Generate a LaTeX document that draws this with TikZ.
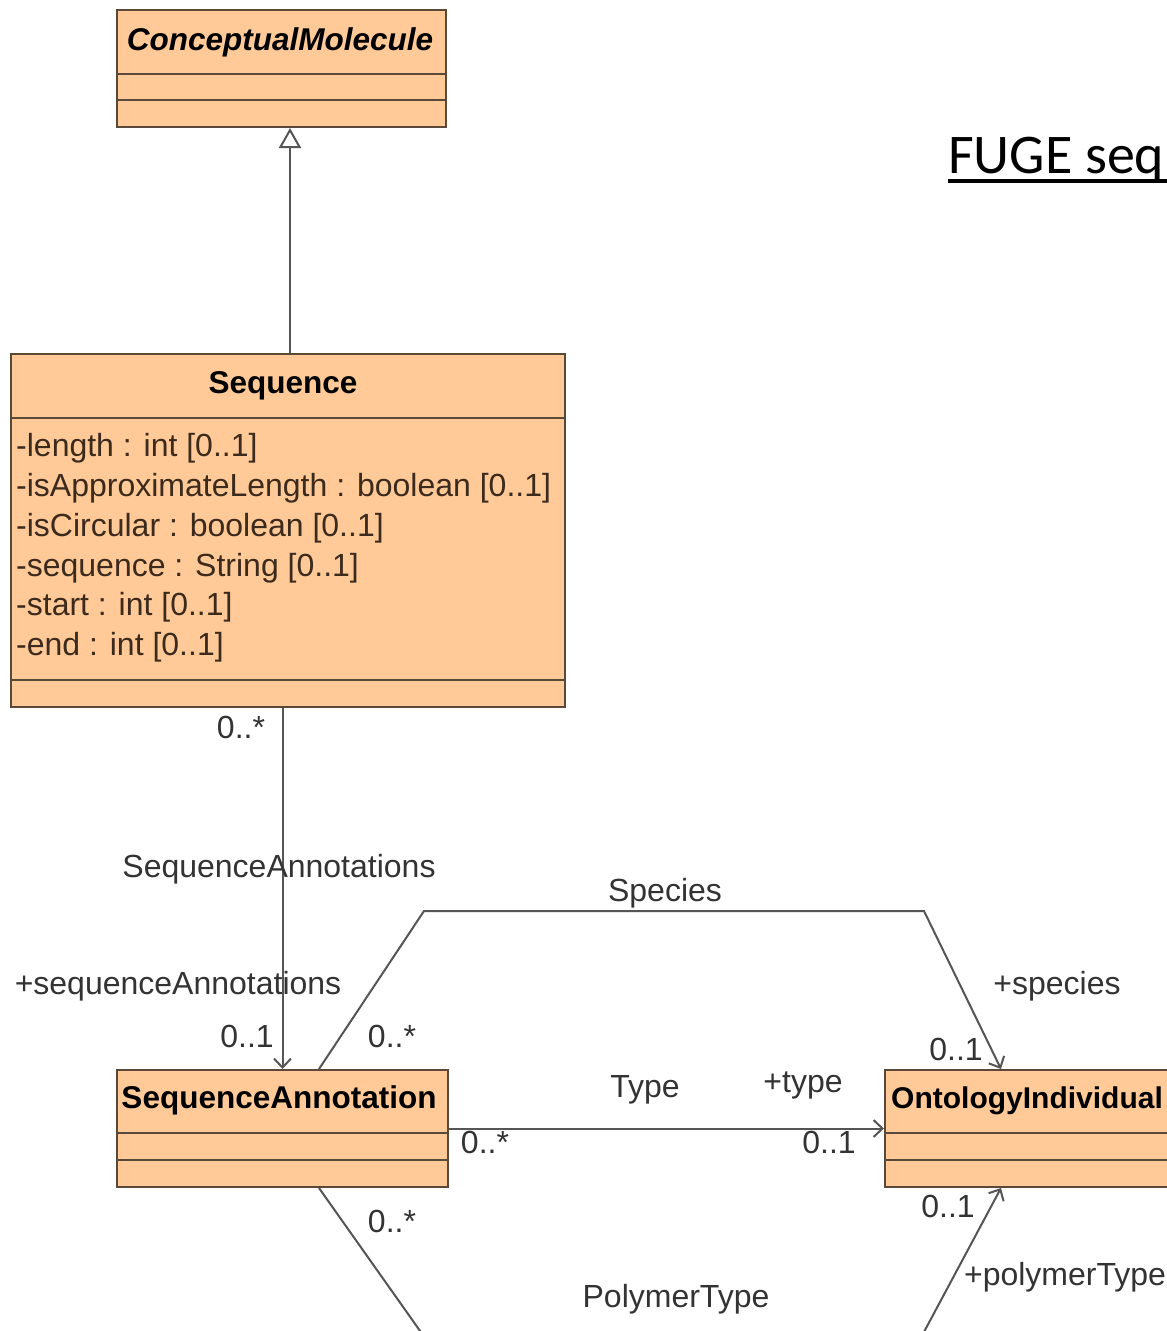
\documentclass[tikz,border=0pt]{standalone}
\usepackage{fontspec}
\setmainfont{Liberation Sans}
\newfontfamily\titlefont{Carlito}
\usetikzlibrary{arrows.meta,calc}
\definecolor{boxfill}{HTML}{FFCA98}
\definecolor{boxline}{HTML}{5A4838}
\definecolor{conn}{HTML}{555555}
\definecolor{lbl}{HTML}{333333}
\definecolor{attr}{HTML}{3C2A1C}
\newcommand\umlfont{\fontsize{32}{38}\selectfont}
\newcommand\umlbold{\fontsize{31.5}{38}\selectfont\bfseries}
\begin{document}
\begin{tikzpicture}[x=1pt,y=-1pt,
  umlbox/.style={draw=boxline, fill=boxfill, line width=2pt, inner sep=0pt},
  divider/.style={draw=boxline, line width=2pt},
  lab/.style={font=\umlfont, text=lbl, inner sep=0pt, anchor=base},
  attrtext/.style={font=\umlfont, text=attr, inner sep=0pt, anchor=base west},
  cname/.style={font=\umlbold, text=black, inner sep=0pt, anchor=base},
  connline/.style={draw=conn, line width=2pt},
  barb/.style={-{Straight Barb[length=9pt,width=17pt,line width=2pt]}}]
\useasboundingbox (0,0) rectangle (1167,1331);
\fill[white] (0,0) rectangle (1167,1331);
\clip (0,0) rectangle (1167,1331);

% title
\node[font=\titlefont\fontsize{56}{60}\selectfont, anchor=base west, inner sep=0pt] (title) at (948,173) {FUGE seq};
\draw[line width=3.5pt] ($(title.base west)+(0,8)$) -- ++(260,0);

% ConceptualMolecule
\node[umlbox, minimum width=329pt, minimum height=117pt] (cm) at (281.5,68.5) {};
\draw[divider] (cm.west |- 0,74) -- (cm.east |- 0,74);
\draw[divider] (cm.west |- 0,100) -- (cm.east |- 0,100);
\node[cname, font=\umlbold\itshape] (cmname) at (280,50) {ConceptualMolecule};

% Sequence
\node[umlbox, minimum width=554pt, minimum height=353pt] (seq) at (288,530.5) {};
\draw[divider] (seq.west |- 0,418) -- (seq.east |- 0,418);
\draw[divider] (seq.west |- 0,680) -- (seq.east |- 0,680);
\node[cname] (seqname) at (283,393) {Sequence};
\node[attrtext] (a1) at (16,456) {-length : int [0..1]};
\node[attrtext] (a2) at (16,496) {-isApproximateLength : boolean [0..1]};
\node[attrtext] (a3) at (16,536) {-isCircular : boolean [0..1]};
\node[attrtext] (a4) at (16,576) {-sequence : String [0..1]};
\node[attrtext] (a5) at (16,615) {-start : int [0..1]};
\node[attrtext] (a6) at (16,655) {-end : int [0..1]};

% SequenceAnnotation
\node[umlbox, minimum width=331pt, minimum height=117pt] (sa) at (282.5,1128.5) {};
\draw[divider] (sa.west |- 0,1133) -- (sa.east |- 0,1133);
\draw[divider] (sa.west |- 0,1160) -- (sa.east |- 0,1160);
\node[cname] (saname) at (279,1108) {SequenceAnnotation};

% OntologyIndividual
\node[umlbox, minimum width=295pt, minimum height=117pt] (oi) at (1032.5,1128.5) {};
\draw[divider] (oi.west |- 0,1133) -- (oi.east |- 0,1133);
\draw[divider] (oi.west |- 0,1160) -- (oi.east |- 0,1160);
\node[cname, anchor=base west, font=\fontsize{30}{36}\selectfont\bfseries] (oiname) at (891,1108) {OntologyIndividual};

% generalization
\draw[connline, -{Triangle[length=20pt,width=22pt,fill=white,line width=2pt]}] (seq.north -| 290,0) -- (cm.south -| 290,0);

% SequenceAnnotations association
\draw[connline, barb] (seq.south -| sa.north) -- (sa.north);
\node[lab] (l1) at (241,738) {0..*};
\node[lab] (l2) at (279,877) {SequenceAnnotations};
\node[lab] (l3) at (178,994) {+sequenceAnnotations};
\node[lab] (l4) at (247,1047) {0..1};

% Species
\coordinate (spa) at (424,911);
\coordinate (spb) at (924,911);
\draw[connline, barb] ($(sa.north west)+(203,0)$) -- (spa) -- (spb) -- ($(oi.north west)+(117,0)$);
\node[lab] (l5) at (665,901) {Species};
\node[lab] (l6) at (1057,994) {+species};
\node[lab] (l7) at (392,1047) {0..*};
\node[lab] (l8) at (956,1060) {0..1};

% Type
\draw[connline, barb] (sa.east) -- (oi.west);
\node[lab] (l9) at (645,1097) {Type};
\node[lab] (l10) at (803,1092) {+type};
\node[lab] (l11) at (485,1153) {0..*};
\node[lab] (l12) at (829,1153) {0..1};

% PolymerType
\coordinate (pa) at (430,1345);
\coordinate (pb) at (917,1345);
\draw[connline, barb] ($(sa.south west)+(203,0)$) -- (pa) -- (pb) -- ($(oi.south west)+(117,0)$);
\node[lab] (l13) at (392,1232) {0..*};
\node[lab] (l14) at (676,1307) {PolymerType};
\node[lab] (l15) at (948,1217) {0..1};
\node[lab] (l16) at (1065,1285) {+polymerType};
\end{tikzpicture}
\end{document}
